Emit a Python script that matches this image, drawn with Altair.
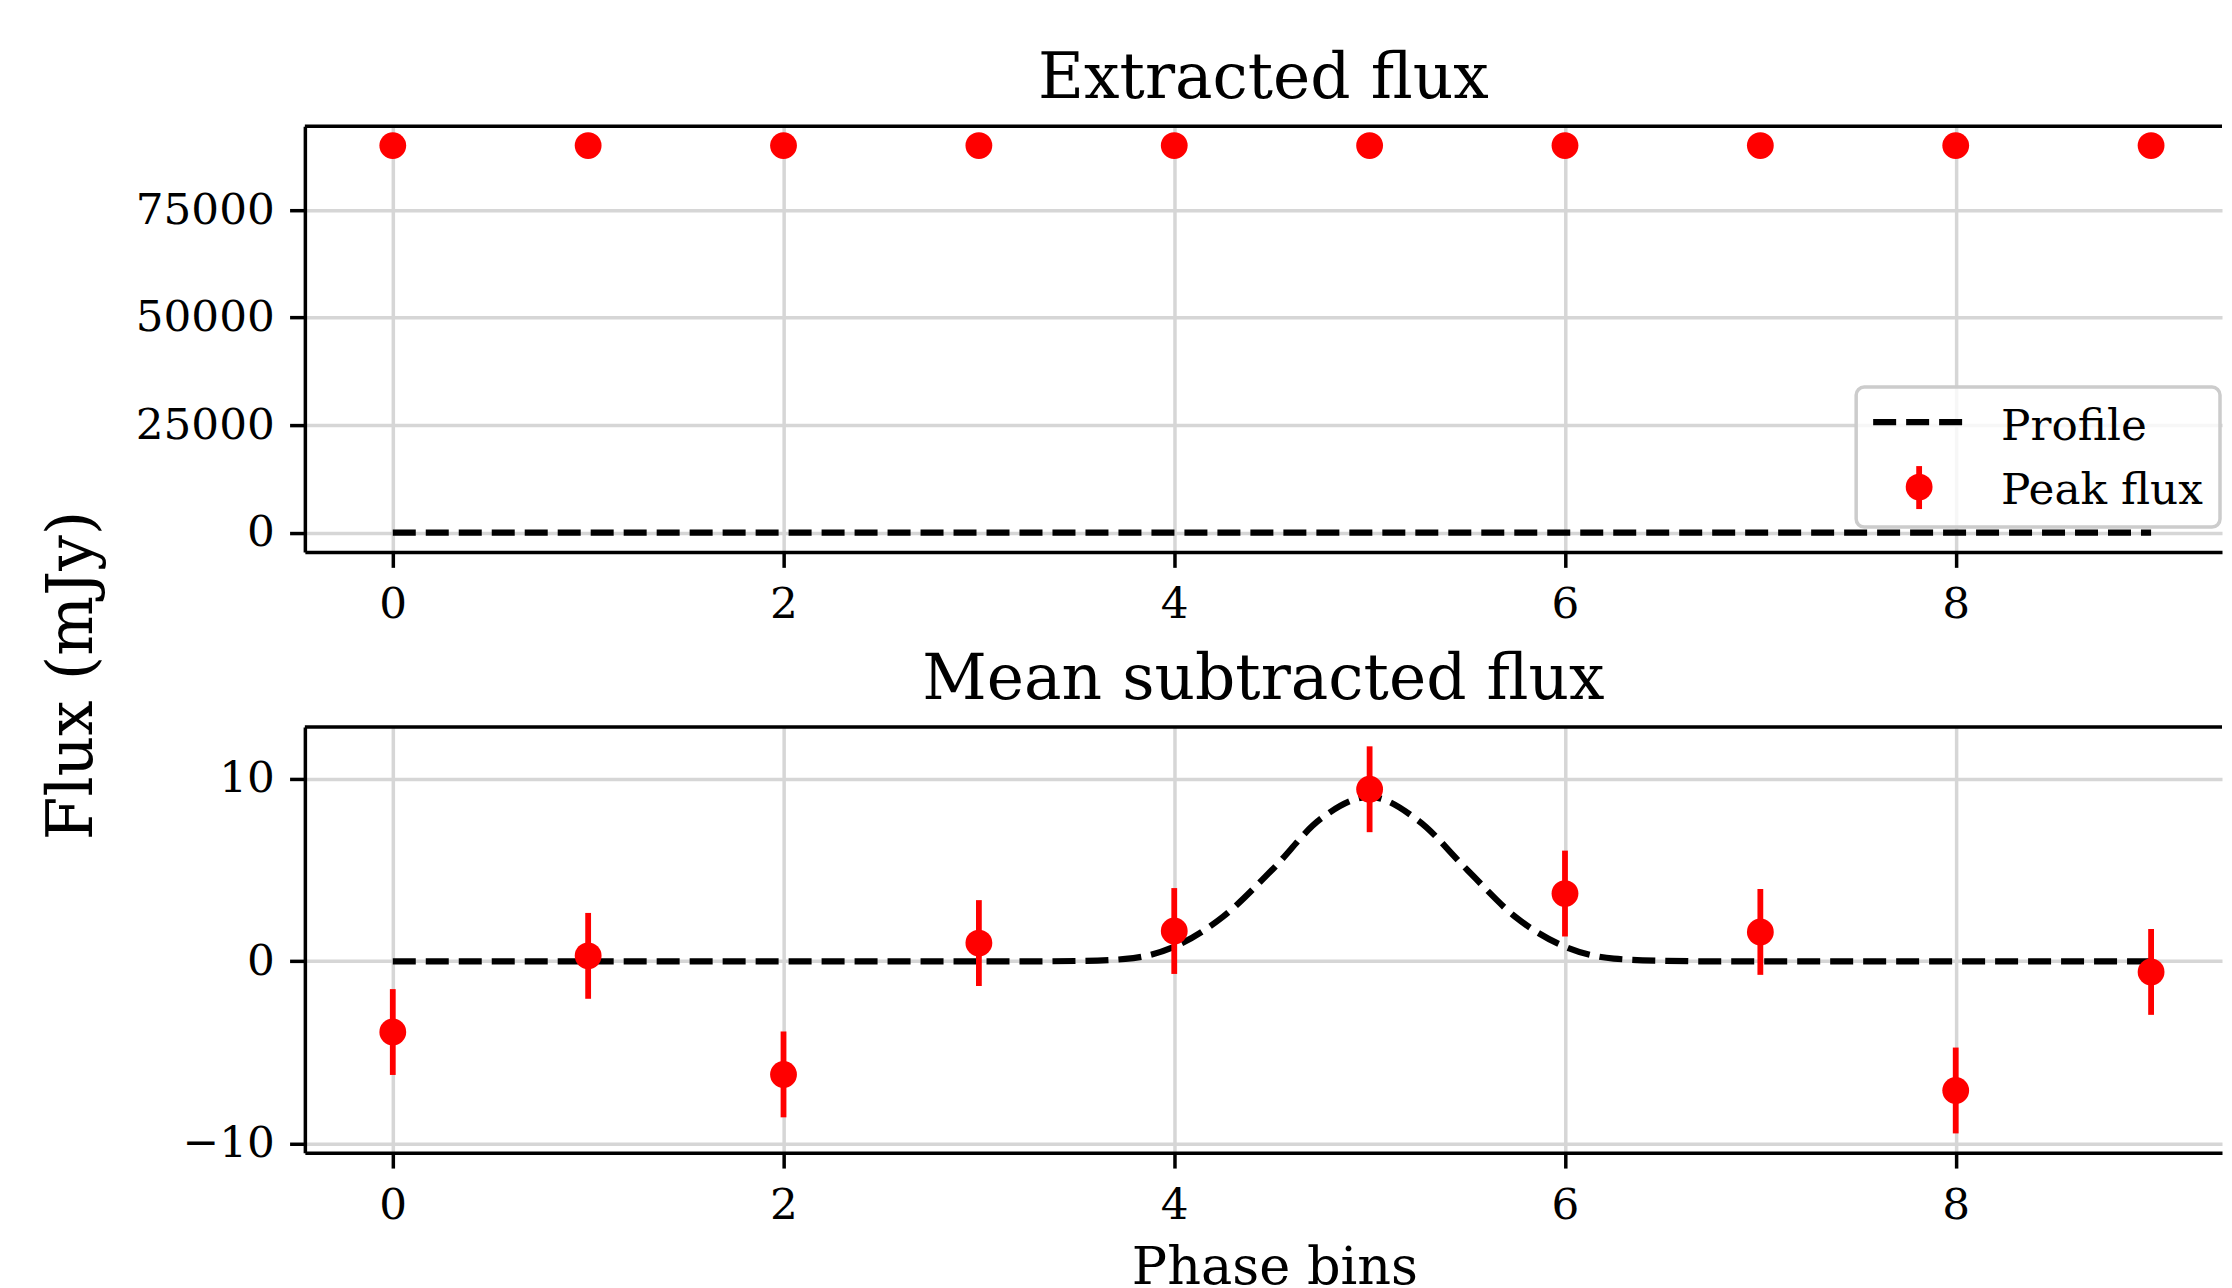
import altair as alt
import pandas as pd

FONT = "DejaVu Serif"

# ---- data ----
phase = [0, 1, 2, 3, 4, 5, 6, 7, 8, 9]
extracted_flux = [89996, 90000, 89994, 90001, 90002, 90009, 90004, 90002, 89993, 89999]
mean_sub_flux = [-3.87, 0.30, -6.19, 1.00, 1.66, 9.42, 3.71, 1.61, -7.07, -0.58]
flux_err = [2.35, 2.35, 2.35, 2.35, 2.35, 2.35, 2.35, 2.35, 2.35, 2.35]
profile_x = [0, 1, 2, 3, 3.25, 3.5, 3.75, 4.0, 4.25, 4.5, 4.75, 5.0, 5.25, 5.5, 5.75, 6.0, 6.25, 6.5, 6.75, 7, 8, 9]
profile_y = [0, 0, 0, 0, 0.0, 0.02, 0.13, 0.8, 2.45, 5.0, 7.8, 9.0, 7.7, 5.0, 2.4, 0.8, 0.15, 0.03, 0.0, 0, 0, 0]
x_ticks = [0, 2, 4, 6, 8]
top_y_ticks = [0, 25000, 50000, 75000]
bot_y_ticks = [-10, 0, 10]
legend_labels = ["Profile", "Peak flux"]
titles = ["Extracted flux", "Mean subtracted flux"]
x_title = "Phase bins"
y_title = "Flux (mJy)"

W = 1918
H = 426
X_DOMAIN = [-0.45, 9.363]
LW = 3.5          # frame / tick / grid width
TICK_FS = 43.75
TITLE_FS = 63

pts_top = pd.DataFrame({"phase": phase, "flux": extracted_flux, "err": flux_err})
pts_bot = pd.DataFrame({"phase": phase, "flux": mean_sub_flux, "err": flux_err})
prof = pd.DataFrame({"phase": profile_x, "flux": profile_y})

axis_style = dict(
    domainColor="black", domainWidth=LW, tickColor="black", tickWidth=LW,
    tickSize=15.3, labelPadding=15.3, labelFont=FONT, labelFontSize=TICK_FS,
    labelColor="black", gridColor="#d6d6d6", gridWidth=LW, titleFont=FONT,
    titleColor="black", titleFontWeight="normal",
)


def x_enc(show_title):
    if show_title:
        ax = alt.Axis(values=x_ticks, format="d", title=x_title, titleFontSize=52.5,
                      titleX=(1274 - 304), titleY=131, titleBaseline="alphabetic",
                      titleAlign="center", **axis_style)
    else:
        ax = alt.Axis(values=x_ticks, format="d", title=None, **axis_style)
    return alt.X("phase:Q", scale=alt.Scale(domain=X_DOMAIN, nice=False, zero=False), axis=ax)


def y_enc(domain, ticks, show_title):
    if show_title:
        ax = alt.Axis(values=ticks, format="d", title=y_title, titleFontSize=TITLE_FS,
                      titleX=-213, titleY=549, titleAngle=270, titleAlign="center",
                      titleBaseline="alphabetic", **axis_style)
    else:
        ax = alt.Axis(values=ticks, format="d", title=None, **axis_style)
    return alt.Y("flux:Q", scale=alt.Scale(domain=domain, nice=False, zero=False), axis=ax)


def panel(pts, domain, ticks, title, first):
    y = y_enc(domain, ticks, first)
    x = x_enc(not first)
    line = alt.Chart(prof).mark_line(
        color="black", strokeWidth=6.2, strokeDash=[23, 10], interpolate="monotone"
    ).encode(x=x, y=y)
    bars = alt.Chart(pts).transform_calculate(
        lo="datum.flux - datum.err", hi="datum.flux + datum.err"
    ).mark_rule(color="#ff0000", strokeWidth=5.8).encode(
        x=alt.X("phase:Q"), y=alt.Y("lo:Q"), y2=alt.Y2("hi:Q")
    )
    dots = alt.Chart(pts).mark_point(
        filled=True, shape="circle", size=720, color="#ff0000", opacity=1, strokeWidth=0
    ).encode(x=alt.X("phase:Q"), y=alt.Y("flux:Q"))
    one = alt.Data(values=[{"k": 0}])
    frame_top = alt.Chart(one).mark_rule(color="black", strokeWidth=LW).encode(
        x=alt.value(0), x2=alt.value(W), y=alt.value(0)
    )
    layers = [line, bars, dots, frame_top]
    if first:
        box = alt.Chart(one).mark_rect(
            fill="white", fillOpacity=0.8, stroke="#cccccc", strokeWidth=LW, cornerRadius=8
        ).encode(x=alt.value(1552), x2=alt.value(1916), y=alt.value(261), y2=alt.value(401))
        dash = alt.Chart(one).mark_rule(color="black", strokeWidth=6.2, strokeDash=[23, 10]).encode(
            x=alt.value(1569), x2=alt.value(1658), y=alt.value(296)
        )
        mbar = alt.Chart(one).mark_rule(color="#ff0000", strokeWidth=5.8).encode(
            x=alt.value(1615), y=alt.value(340), y2=alt.value(383)
        )
        mdot = alt.Chart(one).mark_point(
            filled=True, shape="circle", size=720, color="#ff0000", opacity=1, strokeWidth=0
        ).encode(x=alt.value(1615), y=alt.value(361))
        t1 = alt.Chart(alt.Data(values=[{"label": legend_labels[0]}])).mark_text(
            font=FONT, fontSize=TICK_FS, color="black", align="left", baseline="alphabetic"
        ).encode(text="label:N", x=alt.value(1697), y=alt.value(313.5))
        t2 = alt.Chart(alt.Data(values=[{"label": legend_labels[1]}])).mark_text(
            font=FONT, fontSize=TICK_FS, color="black", align="left", baseline="alphabetic"
        ).encode(text="label:N", x=alt.value(1697), y=alt.value(378))
        layers += [box, dash, mbar, mdot, t1, t2]
    return alt.layer(*layers).properties(
        width=W, height=H,
        title=alt.TitleParams(title, font=FONT, fontSize=TITLE_FS, fontWeight="normal",
                              color="black", offset=-37, baseline="alphabetic",
                              anchor="middle", frame="group"),
    )


top = panel(pts_top, [-4500, 94500], top_y_ticks, titles[0], True)
bottom = panel(pts_bot, [-10.48, 12.83], bot_y_ticks, titles[1], False)

chart = alt.vconcat(top, bottom, spacing=175, bounds="flush").configure(
    padding={"left": 34, "top": 40, "right": 0, "bottom": 0}, background="white"
).configure_view(stroke=None)

chart.save("out.html", embed_options={"renderer": "svg", "actions": False})
